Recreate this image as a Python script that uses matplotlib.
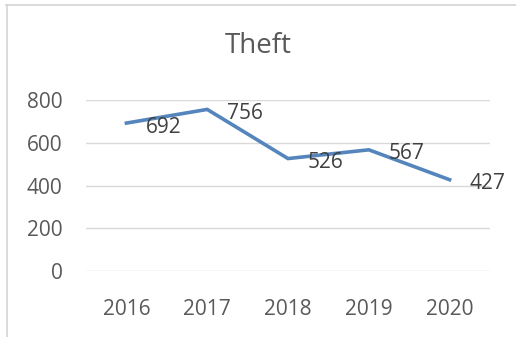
import matplotlib
matplotlib.use('Agg')
import matplotlib.pyplot as plt
from matplotlib.lines import Line2D

plt.rcParams['font.family'] = ['Open Sans', 'DejaVu Sans']

# Theft cases per year
years = ['2016', '2017', '2018', '2019', '2020']
theft = [692, 756, 526, 567, 427]
y_ticks = [0, 200, 400, 600, 800]

fig = plt.figure(figsize=(5.16, 3.37), dpi=100)
ax = fig.add_axes([86 / 516, 1 - 271 / 337, 404 / 516, (271 - 100) / 337])

x = list(range(len(years)))
ax.plot(x, theft, color='#5585bd', linewidth=2.6, solid_joinstyle='miter')

# value labels to the right of each point
for xi, v in zip(x, theft):
    ax.annotate(str(v), (xi, v), xytext=(14, -3), textcoords='offset points',
                ha='left', va='center', fontsize=15, color='#404040',
                annotation_clip=False)

ax.set_xlim(-0.5, len(years) - 0.5)
ax.set_ylim(0, 800)
ax.set_yticks(y_ticks)
ax.set_xticks(x)
ax.set_xticklabels(years)
ax.grid(axis='y', color='#d9d9d9', linewidth=1)
ax.set_axisbelow(True)
for s in ax.spines.values():
    s.set_visible(False)
ax.tick_params(length=0, labelsize=15, labelcolor='#595959')
ax.tick_params(axis='y', pad=17)
ax.tick_params(axis='x', pad=20)

fig.text(258 / 516, 1 - 46 / 337, 'Theft', ha='center', va='center',
         fontsize=20, color='#595959')

# chart area border (top and left edges)
fig.add_artist(Line2D([6.5 / 516, 6.5 / 516], [0, 1 - 5 / 337],
                      transform=fig.transFigure, color='#d4d4d4', linewidth=1.2))
fig.add_artist(Line2D([6 / 516, 1], [1 - 5 / 337, 1 - 5 / 337],
                      transform=fig.transFigure, color='#d4d4d4', linewidth=1.2))

fig.savefig('out.png', dpi=100)
